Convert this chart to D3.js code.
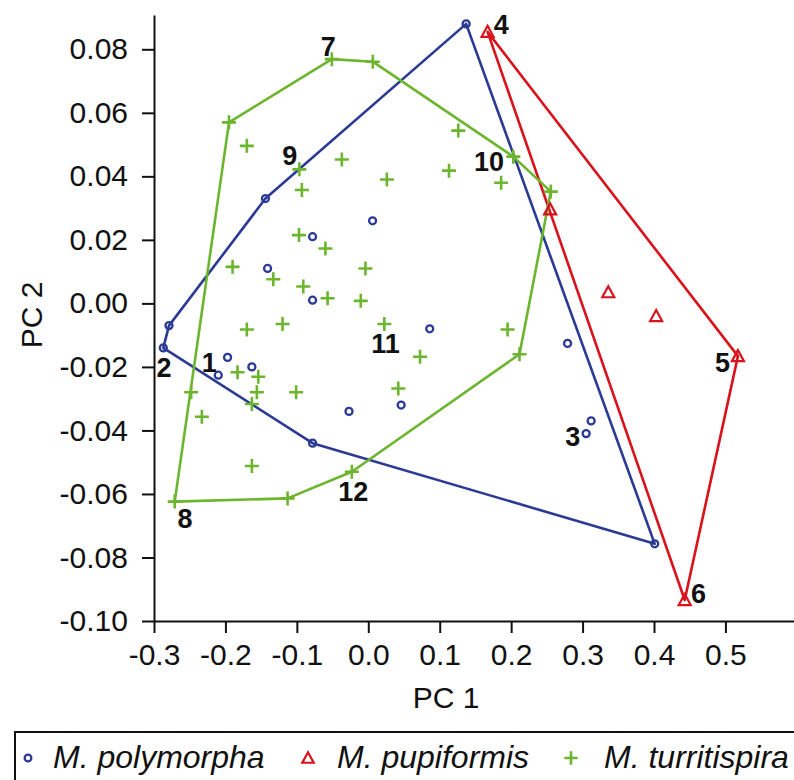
<!DOCTYPE html>
<html>
<head>
<meta charset="utf-8">
<script src="https://cdn.jsdelivr.net/npm/d3@7/dist/d3.min.js"></script>
<style>
  body { margin: 0; background: #fff; }
  text { font-family: "Liberation Sans", Arial, sans-serif; }
</style>
</head>
<body>
<script>
// PC scores, one array per species: [PC1, PC2]
const polymorpha = [
    [0.137, 0.088], [-0.144, 0.033], [0.006, 0.026], [-0.078, 0.021], [-0.141, 0.011],
    [-0.078, 0.001], [-0.279, -0.007], [-0.287, -0.014], [-0.197, -0.017], [-0.210, -0.0226],
    [-0.163, -0.020], [-0.078, -0.044], [-0.027, -0.034], [0.046, -0.032], [0.086, -0.008],
    [0.279, -0.0126], [0.312, -0.037], [0.305, -0.041], [0.401, -0.0757]
];
const pupiformis = [
    [0.167, 0.0855], [0.2546, 0.0296], [0.336, 0.0035], [0.403, -0.004], [0.5175, -0.0166], [0.443, -0.0934]
];
const turritispira = [
    [-0.195, 0.057], [-0.170, 0.0496], [-0.051, 0.0769], [0.0063, 0.0761], [-0.0965, 0.0422],
    [-0.037, 0.0453], [0.026, 0.039], [0.126, 0.0544], [0.113, 0.0418], [0.203, 0.0462],
    [0.186, 0.038], [0.2555, 0.0352], [-0.093, 0.0357], [-0.097, 0.0215], [-0.060, 0.0173],
    [-0.190, 0.0115], [-0.004, 0.011], [-0.133, 0.0076], [-0.091, 0.0053], [-0.057, 0.0016],
    [-0.0105, 0.0008], [-0.170, -0.0082], [-0.120, -0.0065], [0.0225, -0.0065], [0.0725, -0.0168],
    [0.195, -0.0082], [0.2117, -0.016], [-0.183, -0.0217], [-0.154, -0.0231], [-0.248, -0.028],
    [-0.156, -0.028], [-0.101, -0.028], [-0.163, -0.0317], [-0.233, -0.0357], [0.042, -0.0268],
    [-0.163, -0.0512], [-0.271, -0.0624], [-0.113, -0.0614], [-0.023, -0.053]
];

// specimen numbers placed next to the points
const labelText = ["1", "2", "3", "4", "5", "6", "7", "8", "9", "10", "11", "12"];
const labelPos = [
    [-0.2225, -0.0184], [-0.286, -0.0201], [0.2864, -0.0417], [0.186, 0.088],
    [0.496, -0.0186], [0.4623, -0.0914], [-0.0559, 0.081], [-0.2566, -0.0677],
    [-0.110, 0.0467], [0.169, 0.0449], [0.024, -0.0126], [-0.0209, -0.0593]
];

const xTicks = [-0.3, -0.2, -0.1, 0.0, 0.1, 0.2, 0.3, 0.4, 0.5];
const yTicks = [-0.10, -0.08, -0.06, -0.04, -0.02, 0.00, 0.02, 0.04, 0.06, 0.08];

const species = ["M. polymorpha", "M. pupiformis", "M. turritispira"];
const colors = ["#2b3a94", "#d9121c", "#6cb52e"];
const symbols = ["circle", "triangle", "plus"];

const W = 794, H = 780;
const svg = d3.select("body").append("svg")
    .attr("width", W)
    .attr("height", H);

const x = d3.scaleLinear().domain([-0.3, 0.596]).range([154, 794]);
const y = d3.scaleLinear().domain([-0.10, 0.0908]).range([621, 15]);

const fmt = (f) => (d => d3.format(f)(d).replace("\u2212", "-"));

// Axes
const gx = svg.append("g")
    .attr("transform", "translate(0," + y(-0.10) + ")")
    .call(d3.axisBottom(x).tickValues(xTicks).tickFormat(fmt(".1f")).tickSize(12).tickSizeOuter(0));
const gy = svg.append("g")
    .attr("transform", "translate(" + x(-0.3) + ",0)")
    .call(d3.axisLeft(y).tickValues(yTicks).tickFormat(fmt(".2f")).tickSize(12).tickSizeOuter(0));

[gx, gy].forEach(g => {
    g.select(".domain").attr("stroke", "#111").attr("stroke-width", 2);
    g.selectAll(".tick line").attr("stroke", "#111").attr("stroke-width", 2);
    g.selectAll(".tick text").attr("fill", "#111").style("font-size", "30px")
        .style("font-family", '"Liberation Sans", Arial, sans-serif');
});
gx.selectAll(".tick text").attr("dy", "1.05em").attr("y", 12);
gy.selectAll(".tick text").attr("x", -26);

svg.append("text")
    .attr("x", 446).attr("y", 708)
    .attr("text-anchor", "middle")
    .style("font-size", "30px").attr("fill", "#111")
    .text("PC 1");
svg.append("text")
    .attr("transform", "translate(42,315) rotate(-90)")
    .attr("text-anchor", "middle")
    .style("font-size", "30px").attr("fill", "#111")
    .text("PC 2");

// Marker drawing
function drawMarker(g, kind, color, s) {
    if (kind === "circle") {
        g.append("circle").attr("r", 3.5 * s)
            .attr("fill", "none").attr("stroke", color).attr("stroke-width", 2.3);
    } else if (kind === "triangle") {
        const h = 10 * s, w = 12 * s;
        g.append("path")
            .attr("d", `M0,${-h / 2 - 1} L${w / 2},${h / 2} L${-w / 2},${h / 2} Z`)
            .attr("fill", "none").attr("stroke", color).attr("stroke-width", 2.2)
            .attr("stroke-linejoin", "miter");
    } else {
        const a = 7 * s;
        g.append("path")
            .attr("d", `M${-a},0 H${a} M0,${-a} V${a}`)
            .attr("fill", "none").attr("stroke", color).attr("stroke-width", 2.6);
    }
}

const groups = [polymorpha, pupiformis, turritispira];

// Convex hulls
groups.forEach((pts, i) => {
    const hull = d3.polygonHull(pts.map(p => [x(p[0]), y(p[1])]));
    svg.append("path")
        .attr("d", "M" + hull.join("L") + "Z")
        .attr("fill", "none")
        .attr("stroke", colors[i])
        .attr("stroke-width", 2.6)
        .attr("stroke-linejoin", "round");
});

// Points
groups.forEach((pts, i) => {
    pts.forEach(p => {
        const g = svg.append("g").attr("transform", `translate(${x(p[0])},${y(p[1])})`);
        drawMarker(g, symbols[i], colors[i], 1);
    });
});

// Specimen labels
svg.selectAll("text.lab")
    .data(labelText)
    .enter().append("text")
    .attr("class", "lab")
    .attr("x", (d, i) => x(labelPos[i][0]))
    .attr("y", (d, i) => y(labelPos[i][1]))
    .attr("dy", "0.36em")
    .attr("text-anchor", "middle")
    .style("font-size", "27px")
    .style("font-weight", "bold")
    .attr("fill", "#111")
    .text(d => d);

// Legend
svg.append("rect")
    .attr("x", 15).attr("y", 732)
    .attr("width", 820).attr("height", 80)
    .attr("fill", "none").attr("stroke", "#111").attr("stroke-width", 2);

const legX = [28, 308, 571];
const legTextX = [53, 337, 604];
species.forEach((name, i) => {
    const g = svg.append("g").attr("transform", `translate(${legX[i]},758)`);
    drawMarker(g, symbols[i], colors[i], 0.95);
    svg.append("text")
        .attr("x", legTextX[i]).attr("y", 768)
        .style("font-size", "32px")
        .style("font-style", "italic")
        .attr("fill", "#111")
        .text(name);
});
</script>
</body>
</html>
